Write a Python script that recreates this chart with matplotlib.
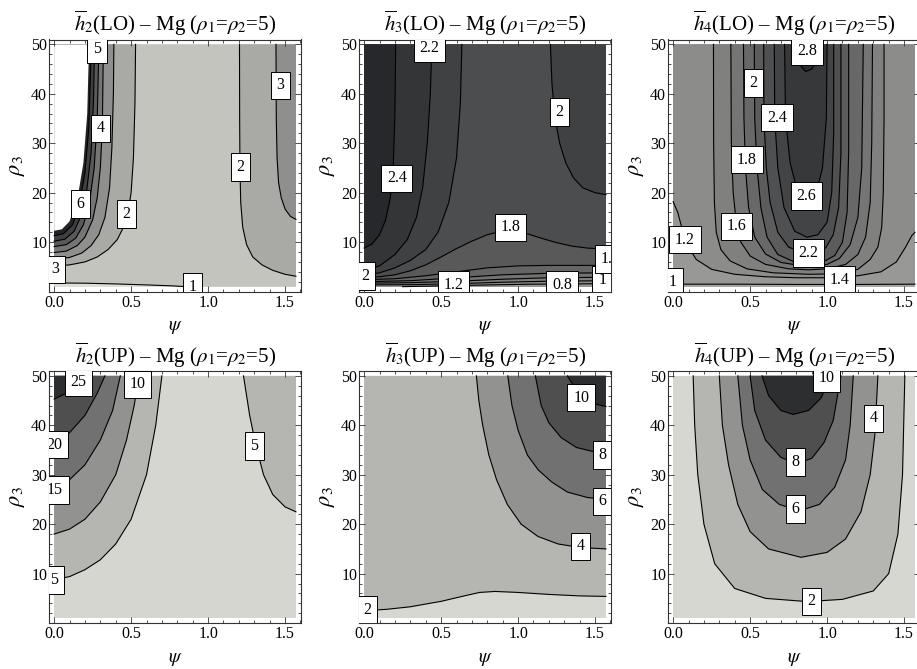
import numpy as np
import matplotlib
matplotlib.use("Agg")
import matplotlib.pyplot as plt
from matplotlib.colors import LinearSegmentedColormap
from matplotlib.ticker import MultipleLocator, FixedLocator

plt.rcParams['font.family'] = ['Liberation Serif', 'DejaVu Serif']
plt.rcParams['mathtext.fontset'] = 'stix'

# ---------------- data ----------------
PSI_MIN, PSI_MAX = 0.0, np.pi / 2
RHO_MIN, RHO_MAX = 1.0, 50.0
X_TICKS = [0.0, 0.5, 1.0, 1.5]
X_TICK_LABELS = ['0.0', '0.5', '1.0', '1.5']
Y_TICKS = [0, 10, 20, 30, 40, 50]

TITLES = [r"$\overline{h}_2$(LO) – Mg ($\rho_1$=$\rho_2$=5)",
          r"$\overline{h}_3$(LO) – Mg ($\rho_1$=$\rho_2$=5)",
          r"$\overline{h}_4$(LO) – Mg ($\rho_1$=$\rho_2$=5)",
          r"$\overline{h}_2$(UP) – Mg ($\rho_1$=$\rho_2$=5)",
          r"$\overline{h}_3$(UP) – Mg ($\rho_1$=$\rho_2$=5)",
          r"$\overline{h}_4$(UP) – Mg ($\rho_1$=$\rho_2$=5)"]

# contour curves: lists of (psi, rho3)
# --- h2 (LO)
H2LO_LEVELS = [1, 2, 3, 4, 5, 6, 7, 8]
H2LO_1 = [(0, 1.75), (0.2, 1.7), (0.4, 1.55), (0.6, 1.35), (0.75, 1.18), (0.86, 1.0)]
H2LO_2A = [(0, 5.2), (0.1, 5.4), (0.2, 6.0), (0.28, 7.0), (0.35, 8.5), (0.41, 10.5), (0.45, 13),
           (0.48, 16), (0.5, 20), (0.515, 27), (0.525, 38), (0.529, 50)]
H2LO_2B = [(1.204, 50), (1.205, 35), (1.207, 25), (1.212, 18), (1.225, 13), (1.25, 9.5), (1.29, 7),
           (1.35, 5.4), (1.42, 4.3), (1.5, 3.5), (1.5708, 3.1)]
H2LO_3A = [(0, 6.6), (0.1, 6.9), (0.18, 7.8), (0.24, 9.3), (0.29, 11.5), (0.33, 15), (0.36, 21),
           (0.375, 29), (0.385, 40), (0.388, 50)]
H2LO_3B = [(1.441, 50), (1.443, 35), (1.448, 27), (1.458, 22), (1.475, 19), (1.5, 16.7), (1.535, 15.2),
           (1.5708, 14.6)]
H2LO_4 = [(0, 7.9), (0.08, 8.2), (0.15, 9.3), (0.2, 11), (0.25, 14.5), (0.28, 19), (0.3, 25), (0.313, 33),
          (0.32, 50)]
H2LO_5 = [(0, 9.1), (0.08, 9.5), (0.14, 10.8), (0.19, 13.5), (0.23, 18), (0.26, 25), (0.28, 35), (0.291, 50)]
H2LO_6 = [(0, 10.2), (0.07, 10.6), (0.13, 12.2), (0.17, 15), (0.21, 20), (0.24, 28), (0.255, 38), (0.263, 50)]
H2LO_7 = [(0, 11.3), (0.06, 11.7), (0.12, 13.5), (0.16, 17), (0.2, 24), (0.225, 33), (0.242, 50)]
H2LO_8 = [(0, 12.3), (0.05, 12.6), (0.1, 14.2), (0.15, 18.5), (0.19, 26), (0.215, 36), (0.227, 50)]
H2LO_LABELS = ['1', '2', '2', '3', '3', '4', '5', '6']
H2LO_LABEL_PSI = [0.90, 0.47, 1.21, 0.006, 1.47, 0.30, 0.277, 0.17]
H2LO_LABEL_RHO = [1.0, 15.7, 25.2, 4.5, 41.7, 33.0, 49.0, 17.7]

# --- h3 (LO)
H3LO_LEVELS = [0.8, 1.0, 1.2, 1.4, 1.6, 1.8, 2.0, 2.2, 2.4]
H3LO_08 = [(0.25, 1.0), (0.5, 1.15), (0.8, 1.35), (1.1, 1.5), (1.5708, 1.6)]
H3LO_10 = [(0, 1.35), (0.3, 1.4), (0.6, 1.6), (0.9, 1.9), (1.2, 2.1), (1.5708, 2.2)]
H3LO_12 = [(0, 1.7), (0.3, 1.8), (0.6, 2.1), (0.9, 2.5), (1.2, 2.8), (1.5708, 2.9)]
H3LO_14 = [(0, 2.0), (0.3, 2.2), (0.6, 2.8), (0.9, 3.4), (1.2, 3.7), (1.5708, 3.8)]
H3LO_16 = [(0, 2.4), (0.2, 2.6), (0.4, 3.2), (0.6, 4.0), (0.8, 4.8), (1.0, 5.2), (1.2, 5.3), (1.4, 5.3),
           (1.5708, 5.3)]
H3LO_18 = [(0, 2.8), (0.1, 3.0), (0.2, 3.4), (0.3, 4.2), (0.4, 5.4), (0.5, 7.0), (0.6, 8.7), (0.7, 10.2),
           (0.8, 11.5), (0.9, 12.3), (0.98, 12.3), (1.06, 11.7), (1.15, 10.8), (1.25, 9.9), (1.35, 9.2),
           (1.45, 8.8), (1.5708, 8.6)]
H3LO_20A = [(0, 3.3), (0.1, 3.8), (0.2, 4.8), (0.3, 6.3), (0.4, 8.5), (0.48, 12), (0.55, 18), (0.6, 27),
            (0.625, 38), (0.635, 50)]
H3LO_20B = [(1.21, 50), (1.22, 42), (1.24, 35), (1.27, 30), (1.31, 26), (1.36, 23), (1.42, 21), (1.5, 20),
            (1.5708, 19.6)]
H3LO_22 = [(0, 4.3), (0.1, 5.2), (0.2, 7.5), (0.28, 10.5), (0.34, 15), (0.38, 21), (0.41, 30), (0.43, 40),
           (0.44, 50)]
H3LO_24 = [(0, 8.8), (0.05, 9.6), (0.1, 11.5), (0.14, 14.5), (0.17, 19), (0.19, 26), (0.2, 36), (0.205, 50)]
H3LO_LABELS = ['2.2', '2.4', '2', '1.8', '2', '1.2', '0.8', '1', '1.6']
H3LO_LABEL_PSI = [0.424, 0.212, 1.27, 0.95, 0.008, 0.58, 1.286, 1.546, 1.60]
H3LO_LABEL_RHO = [49.2, 22.9, 36.3, 13.0, 3.2, 1.3, 1.3, 2.4, 6.6]

# --- h4 (LO)
H4LO_LEVELS = [1.0, 1.2, 1.4, 1.6, 1.8, 2.0, 2.2, 2.4, 2.6, 2.8]
H4LO_10 = [(0, 1.5), (0.4, 1.5), (0.8, 1.45), (1.2, 1.45), (1.5708, 1.5)]
H4LO_12 = [(0, 18.2), (0.03, 16), (0.06, 12.5), (0.1, 9), (0.15, 6.5), (0.25, 4.5), (0.4, 3.5), (0.6, 3.0),
           (0.8, 2.8), (1.0, 2.8), (1.2, 3.2), (1.35, 4.0), (1.45, 6), (1.51, 9), (1.55, 11.3), (1.5708, 12)]
H4LO_14 = [(0.262, 50), (0.263, 30), (0.268, 18), (0.28, 12), (0.31, 8.5), (0.37, 6.2), (0.48, 4.6),
           (0.65, 3.8), (0.88, 3.5), (1.05, 3.6), (1.2, 4.5), (1.28, 6.5), (1.33, 9), (1.355, 13),
           (1.365, 20), (1.37, 35), (1.37, 50)]
H4LO_16 = [(0.375, 50), (0.378, 30), (0.39, 20), (0.41, 14), (0.44, 10), (0.5, 7.2), (0.6, 5.5), (0.75, 4.6),
           (0.88, 4.4), (1.0, 4.6), (1.12, 5.5), (1.2, 7.5), (1.25, 11), (1.28, 18), (1.29, 30), (1.295, 50)]
H4LO_18 = [(0.457, 50), (0.46, 35), (0.47, 25), (0.49, 17), (0.53, 11), (0.6, 7.6), (0.7, 5.9), (0.82, 5.3),
           (0.9, 5.2), (1.0, 5.5), (1.08, 6.7), (1.15, 9.5), (1.2, 15), (1.225, 25), (1.235, 50)]
H4LO_20 = [(0.527, 50), (0.53, 35), (0.545, 25), (0.57, 17), (0.61, 11), (0.68, 7.5), (0.78, 6.1),
           (0.88, 5.8), (0.98, 6.1), (1.05, 7.3), (1.1, 10), (1.13, 16), (1.14, 28), (1.14, 50)]
H4LO_22 = [(0.588, 50), (0.59, 35), (0.605, 25), (0.63, 18), (0.68, 12), (0.75, 9), (0.85, 7.8),
           (0.92, 7.8), (0.99, 8.8), (1.04, 11.5), (1.075, 17), (1.09, 28), (1.09, 50)]
H4LO_24 = [(0.657, 50), (0.66, 35), (0.68, 25), (0.72, 17), (0.79, 12.2), (0.87, 11), (0.94, 11.5),
           (1.0, 14), (1.03, 20), (1.043, 32), (1.043, 50)]
H4LO_26 = [(0.724, 50), (0.73, 35), (0.76, 26), (0.81, 20), (0.87, 18.6), (0.93, 20), (0.97, 25),
           (0.995, 35), (1.0, 50)]
H4LO_28 = [(0.8, 50), (0.82, 46), (0.86, 44.5), (0.9, 45), (0.94, 47), (0.96, 50)]
H4LO_LABELS = ['2.8', '2', '2.4', '1.8', '2.6', '1.6', '2.2', '1.4', '1.2', '1']
H4LO_LABEL_PSI = [0.87, 0.522, 0.674, 0.479, 0.865, 0.414, 0.88, 1.082, 0.077, 0.0]
H4LO_LABEL_RHO = [48.7, 42.2, 35.2, 26.7, 19.3, 13.2, 7.8, 2.4, 10.5, 1.9]

# --- h2 (UP)
H2UP_LEVELS = [5, 10, 15, 20, 25]
H2UP_5A = [(0, 8.8), (0.1, 9.4), (0.2, 10.8), (0.3, 12.8), (0.4, 16), (0.5, 21), (0.6, 30), (0.66, 40),
           (0.7, 50)]
H2UP_5B = [(1.23, 50), (1.27, 42), (1.31, 36), (1.36, 30), (1.42, 26), (1.5, 23.5), (1.5708, 22.5)]
H2UP_10 = [(0, 18), (0.1, 19), (0.2, 21), (0.3, 24.5), (0.4, 30), (0.47, 37), (0.52, 44), (0.55, 50)]
H2UP_15 = [(0, 27.5), (0.1, 29), (0.2, 32), (0.3, 37), (0.38, 43), (0.43, 50)]
H2UP_20 = [(0, 36.5), (0.1, 38.5), (0.2, 42), (0.28, 46.5), (0.33, 50)]
H2UP_25 = [(0, 45.3), (0.08, 46.5), (0.14, 48.5), (0.17, 50)]
H2UP_LABELS = ['25', '10', '20', '15', '5', '5']
H2UP_LABEL_PSI = [0.158, 0.54, 0.0, 0.006, 0.0, 1.30]
H2UP_LABEL_RHO = [48.7, 48.3, 36.1, 26.9, 8.7, 35.8]

# --- h3 (UP)
H3UP_LEVELS = [2, 4, 6, 8, 10]
H3UP_2 = [(0, 2.5), (0.15, 2.8), (0.3, 3.3), (0.5, 4.4), (0.65, 5.5), (0.75, 6.2), (0.85, 6.4), (1.0, 6.2),
          (1.2, 5.8), (1.4, 5.5), (1.5708, 5.4)]
H3UP_4 = [(0.729, 50), (0.745, 45), (0.77, 40), (0.81, 34), (0.86, 29), (0.93, 24), (1.02, 20), (1.13, 17.5),
          (1.26, 16), (1.4, 15.3), (1.5708, 15)]
H3UP_6 = [(0.933, 50), (0.96, 44), (1.0, 39), (1.06, 34), (1.13, 31), (1.22, 28.5), (1.32, 26.5),
          (1.45, 25.4), (1.5708, 25)]
H3UP_8 = [(1.112, 50), (1.15, 44), (1.2, 40.5), (1.28, 37.5), (1.38, 35.5), (1.5, 34.6), (1.5708, 34.4)]
H3UP_10 = [(1.32, 50), (1.37, 47.5), (1.43, 45.5), (1.5, 44.3), (1.5708, 43.8)]
H3UP_LABELS = ['2', '4', '6', '8', '10']
H3UP_LABEL_PSI = [0.017, 1.405, 1.547, 1.547, 1.41]
H3UP_LABEL_RHO = [2.6, 15.5, 24.6, 34.0, 45.6]

# --- h4 (UP)
H4UP_LEVELS = [2, 4, 6, 8, 10]
H4UP_2 = [(0.13, 50), (0.14, 40), (0.16, 30), (0.2, 20), (0.27, 12), (0.4, 7), (0.6, 5), (0.87, 4.35),
          (1.1, 4.8), (1.3, 6.5), (1.4, 10), (1.46, 18), (1.49, 30), (1.505, 50)]
H4UP_4 = [(0.3, 50), (0.32, 40), (0.36, 32), (0.42, 24), (0.5, 18.5), (0.62, 15), (0.83, 13.3), (1.0, 14.3),
          (1.12, 17), (1.22, 22.5), (1.28, 30), (1.31, 38), (1.33, 50)]
H4UP_6 = [(0.42, 50), (0.45, 40), (0.5, 33), (0.58, 27), (0.69, 24), (0.82, 22.7), (0.95, 24), (1.05, 27.5),
          (1.12, 33), (1.15, 40), (1.17, 50)]
H4UP_8 = [(0.5, 50), (0.53, 43), (0.6, 37), (0.7, 33.5), (0.8, 32.3), (0.9, 33.3), (0.98, 36.5), (1.04, 41),
          (1.09, 50)]
H4UP_10 = [(0.577, 50), (0.62, 46), (0.7, 43), (0.78, 42.2), (0.88, 43), (0.96, 45.5), (1.03, 50)]
H4UP_LABELS = ['10', '4', '8', '6', '2']
H4UP_LABEL_PSI = [0.996, 1.30, 0.794, 0.794, 0.90]
H4UP_LABEL_RHO = [49.5, 41.4, 32.6, 23.1, 4.4]

# ---------------- assembly ----------------
CORNERS = {'BL': (PSI_MIN, RHO_MIN), 'BR': (PSI_MAX, RHO_MIN),
           'TR': (PSI_MAX, RHO_MAX), 'TL': (PSI_MIN, RHO_MAX)}

PANELS = [
    dict(levels=H2LO_LEVELS, zr=(0.43, 7.72), ceiling=8,
         curves=[(1, H2LO_1, 'BR TR TL'), (2, H2LO_2A, 'TL'), (2, H2LO_2B, 'TR'), (3, H2LO_3A, 'TL'),
                 (3, H2LO_3B, 'TR'), (4, H2LO_4, 'TL'), (5, H2LO_5, 'TL'), (6, H2LO_6, 'TL'),
                 (7, H2LO_7, 'TL'), (8, H2LO_8, 'TL')],
         labels=(H2LO_LABELS, H2LO_LABEL_PSI, H2LO_LABEL_RHO)),
    dict(levels=H3LO_LEVELS, zr=(-0.5, 2.66), ceiling=None,
         curves=[(0.8, H3LO_08, 'TR TL BL'), (1.0, H3LO_10, 'TR TL'), (1.2, H3LO_12, 'TR TL'),
                 (1.4, H3LO_14, 'TR TL'), (1.6, H3LO_16, 'TR TL'), (1.8, H3LO_18, 'TR TL'),
                 (2.0, H3LO_20A, 'TL'), (2.0, H3LO_20B, 'TR'), (2.2, H3LO_22, 'TL'), (2.4, H3LO_24, 'TL')],
         labels=(H3LO_LABELS, H3LO_LABEL_PSI, H3LO_LABEL_RHO)),
    dict(levels=H4LO_LEVELS, zr=(-0.08, 3.12), ceiling=None,
         curves=[(1.0, H4LO_10, 'TR TL'), (1.2, H4LO_12, 'TR TL'), (1.4, H4LO_14, ''), (1.6, H4LO_16, ''),
                 (1.8, H4LO_18, ''), (2.0, H4LO_20, ''), (2.2, H4LO_22, ''), (2.4, H4LO_24, ''),
                 (2.6, H4LO_26, ''), (2.8, H4LO_28, '')],
         labels=(H4LO_LABELS, H4LO_LABEL_PSI, H4LO_LABEL_RHO)),
    dict(levels=H2UP_LEVELS, zr=(1.0, 29.8), ceiling=None,
         curves=[(5, H2UP_5A, 'TL'), (5, H2UP_5B, 'TR'), (10, H2UP_10, 'TL'), (15, H2UP_15, 'TL'),
                 (20, H2UP_20, 'TL'), (25, H2UP_25, 'TL')],
         labels=(H2UP_LABELS, H2UP_LABEL_PSI, H2UP_LABEL_RHO)),
    dict(levels=H3UP_LEVELS, zr=(0.42, 11.9), ceiling=None,
         curves=[(2, H3UP_2, 'TR TL'), (4, H3UP_4, 'TR'), (6, H3UP_6, 'TR'), (8, H3UP_8, 'TR'),
                 (10, H3UP_10, 'TR')],
         labels=(H3UP_LABELS, H3UP_LABEL_PSI, H3UP_LABEL_RHO)),
    dict(levels=H4UP_LEVELS, zr=(0.42, 11.9), ceiling=None,
         curves=[(2, H4UP_2, ''), (4, H4UP_4, ''), (6, H4UP_6, ''), (8, H4UP_8, ''), (10, H4UP_10, '')],
         labels=(H4UP_LABELS, H4UP_LABEL_PSI, H4UP_LABEL_RHO)),
]

CMAP = LinearSegmentedColormap.from_list('mgray', ['#e0e0da', '#1e1f22'])

# ---------------- layout ----------------
W, H = 917, 669
fig = plt.figure(figsize=(W / 100, H / 100), dpi=100)
COL_LEFT = [49.3, 359.3, 668.3]
ROW_TOP = [39.5, 371.0]
AX_W, AX_H = 251.5, 252.0
FRAME_C = '#333333'

pad_x = 0.02 * (PSI_MAX - PSI_MIN)
pad_y = 0.02 * (RHO_MAX - RHO_MIN)


def band_value(levels, i):
    """value in the middle of the band lying above levels[i]"""
    if i + 1 < len(levels):
        return 0.5 * (levels[i] + levels[i + 1])
    return levels[i] + 0.5 * (levels[i] - levels[i - 1])


for k, p in enumerate(PANELS):
    r, c = divmod(k, 3)
    ax = fig.add_axes([COL_LEFT[c] / W, 1 - (ROW_TOP[r] + AX_H) / H, AX_W / W, AX_H / H])
    lo, hi = p['zr']
    lv = p['levels']
    col = lambda v: CMAP(np.clip((v - lo) / (hi - lo), 0, 1))
    base_v = lv[0] - 0.5 * (lv[1] - lv[0])
    ax.fill([PSI_MIN, PSI_MAX, PSI_MAX, PSI_MIN], [RHO_MIN, RHO_MIN, RHO_MAX, RHO_MAX],
            color=col(base_v), lw=0, zorder=1)
    for lev, curve, corners in sorted(p['curves'], key=lambda t: t[0]):
        pts = list(curve) + [CORNERS[s] for s in corners.split()]
        xs, ys = zip(*pts)
        i = lv.index(lev)
        if p['ceiling'] is not None and lev >= p['ceiling']:
            fc = 'white'
        else:
            fc = col(band_value(lv, i))
        ax.fill(xs, ys, color=fc, lw=0, zorder=1)
    for lev, curve, corners in p['curves']:
        if p['ceiling'] is not None and lev >= p['ceiling']:
            continue
        xs, ys = zip(*curve)
        ax.plot(xs, ys, color='black', lw=0.8, zorder=2, solid_joinstyle='round')
    for s, x, y in zip(*p['labels']):
        ax.text(x, y, s, ha='center', va='center', fontsize=11.5, zorder=4, clip_on=True,
                bbox=dict(boxstyle='square,pad=0.36', fc='white', ec='black', lw=0.7))

    ax.set_xlim(PSI_MIN - pad_x, PSI_MAX + pad_x)
    ax.set_ylim(RHO_MIN - pad_y, RHO_MAX + pad_y)
    ax.xaxis.set_major_locator(FixedLocator(X_TICKS))
    ax.set_xticklabels(X_TICK_LABELS)
    ax.yaxis.set_major_locator(FixedLocator(Y_TICKS))
    ax.xaxis.set_minor_locator(MultipleLocator(0.1))
    ax.yaxis.set_minor_locator(MultipleLocator(2))
    ax.tick_params(which='both', direction='in', top=True, right=True, colors=FRAME_C,
                   labelcolor='black', labelsize=11.5, width=0.6)
    ax.tick_params(which='major', length=4, pad=2.5)
    ax.tick_params(which='minor', length=2.2)
    ax.tick_params(axis='y', which='major', pad=1.5)
    for sp in ax.spines.values():
        sp.set_color(FRAME_C)
        sp.set_linewidth(0.8)
    ax.set_xlabel(r'$\psi$', fontsize=14, labelpad=6)
    ax.set_ylabel(r'$\rho_3$', fontsize=16, labelpad=3)
    ax.set_title(TITLES[k], fontsize=15, pad=6)

fig.savefig('out.png', dpi=100)
